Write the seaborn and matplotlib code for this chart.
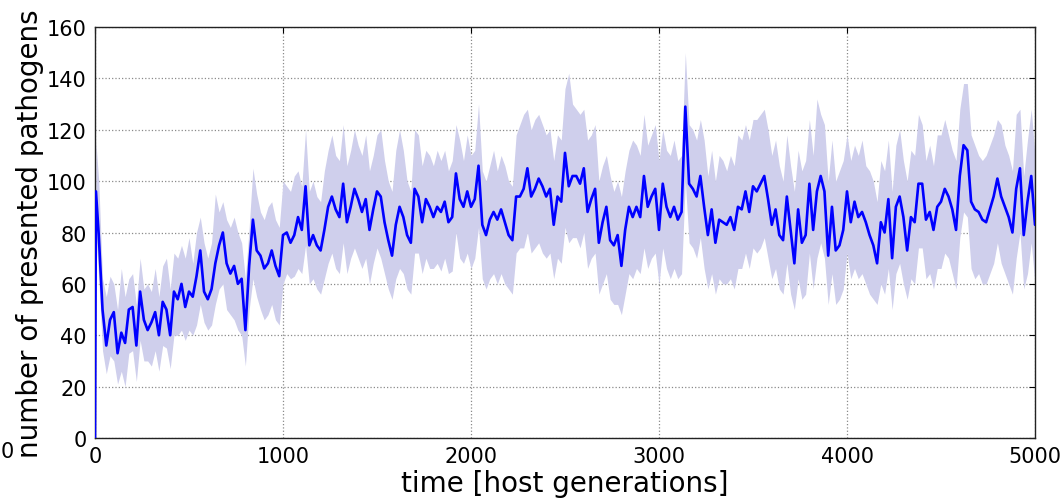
import numpy as np
import matplotlib
matplotlib.use("Agg")
import matplotlib.pyplot as plt
import seaborn as sns

# time points [host generations]
times = [0, 5] + list(range(20, 5001, 20))

mean_presented = [
    0, 96, 79, 50, 36, 46, 49, 33, 41, 37, 50, 51, 36, 57, 46, 42, 45, 49, 40, 53, 50,
    40, 57, 54, 60, 51, 57, 55, 63, 73, 57, 54, 58, 68, 75, 80, 68, 64, 67, 60, 62,
    42, 67, 85, 73, 71, 66, 68, 73, 67, 63,
    79, 80, 76, 79, 86, 81, 98, 75, 79, 75, 73, 81, 90, 94, 89, 86, 99, 84, 90, 97,
    93, 88, 93, 81, 89, 96, 94, 84, 77, 71, 83, 90, 86, 79, 76, 97, 94, 84, 93, 90,
    86, 90, 88, 92, 84, 86, 103, 93, 90, 96,
    90, 93, 106, 83, 79, 85, 88, 85, 89, 84, 79, 77, 94, 94, 97, 105, 94, 97, 101, 98,
    94, 97, 83, 94, 92, 111, 98, 102, 102, 99, 105, 88, 93, 97, 76, 84, 90, 77, 75, 79,
    67, 81, 90, 86, 90, 86, 102, 90, 94, 97,
    81, 99, 90, 86, 90, 85, 88, 129, 99, 97, 94, 102, 90, 79, 89, 76, 85, 84, 83, 86,
    81, 90, 89, 96, 88, 98, 96, 99, 102, 93, 83, 89, 79, 77, 94, 81, 68, 89, 76, 79,
    99, 81, 96, 102, 96, 71, 90, 73, 75, 81,
    96, 84, 92, 86, 88, 84, 79, 75, 68, 84, 80, 93, 70, 90, 94, 86, 73, 86, 84, 99,
    99, 85, 88, 81, 90, 92, 97, 94, 89, 81, 102, 114, 112, 92, 89, 88, 85, 84, 89, 94,
    101, 94, 90, 86, 80, 97, 105, 79, 92, 102, 83,
]

upper_band = [
    0, 115, 100, 62, 55, 63, 60, 50, 66, 55, 62, 64, 52, 70, 58, 60, 57, 66, 55, 67, 70,
    58, 72, 70, 75, 70, 78, 68, 80, 86, 76, 70, 76, 95, 88, 92, 85, 82, 86, 80, 76,
    62, 82, 105, 95, 88, 85, 90, 92, 85, 82,
    100, 98, 96, 102, 104, 98, 120, 96, 100, 94, 92, 104, 112, 118, 110, 108, 122, 106, 112, 120,
    114, 110, 118, 104, 110, 118, 120, 108, 100, 96, 112, 120, 112, 100, 96, 120, 118, 106, 112, 110,
    106, 112, 108, 112, 104, 108, 122, 116, 108, 118,
    110, 112, 130, 104, 100, 106, 112, 104, 110, 106, 100, 98, 118, 122, 126, 128, 120, 124, 126, 122,
    118, 120, 108, 118, 116, 136, 142, 130, 128, 126, 128, 116, 118, 122, 100, 106, 110, 102, 96, 100,
    94, 104, 112, 116, 114, 110, 126, 114, 118, 122,
    108, 120, 112, 110, 116, 108, 110, 150, 122, 120, 116, 124, 116, 102, 112, 100, 110, 108, 104, 110,
    106, 118, 116, 122, 116, 124, 124, 126, 128, 120, 110, 116, 106, 100, 118, 106, 96, 112, 104, 108,
    124, 110, 132, 126, 122, 100, 116, 100, 104, 108,
    118, 108, 114, 110, 116, 106, 104, 100, 92, 108, 104, 116, 96, 114, 120, 108, 100, 112, 110, 126,
    122, 108, 114, 106, 118, 118, 124, 118, 112, 108, 128, 138, 138, 118, 114, 110, 108, 110, 114, 118,
    124, 122, 114, 110, 104, 126, 128, 102, 116, 128, 110,
]

lower_band = [
    0, 80, 62, 34, 25, 32, 30, 21, 26, 20, 33, 34, 22, 38, 30, 30, 28, 34, 26, 36, 35,
    27, 40, 40, 42, 38, 42, 40, 44, 52, 45, 42, 44, 52, 58, 60, 50, 48, 46, 42, 40,
    28, 50, 62, 55, 50, 46, 48, 52, 46, 44,
    60, 64, 62, 63, 66, 64, 75, 60, 62, 58, 56, 62, 68, 72, 66, 64, 76, 64, 70, 74,
    70, 66, 70, 60, 68, 74, 70, 64, 58, 54, 62, 66, 64, 58, 56, 72, 72, 64, 70, 66,
    66, 68, 65, 70, 64, 65, 80, 70, 68, 72,
    66, 70, 82, 62, 58, 62, 64, 60, 64, 60, 58, 56, 72, 74, 74, 80, 72, 74, 76, 72,
    70, 72, 62, 70, 68, 82, 76, 78, 78, 74, 80, 66, 70, 72, 56, 60, 64, 54, 52, 52,
    48, 56, 64, 62, 66, 64, 74, 66, 70, 72,
    60, 74, 66, 62, 66, 62, 64, 100, 76, 74, 70, 78, 66, 58, 64, 56, 62, 60, 60, 62,
    58, 66, 66, 72, 66, 74, 72, 74, 78, 70, 62, 66, 58, 56, 68, 56, 50, 62, 54, 56,
    72, 58, 70, 76, 70, 52, 64, 52, 54, 58,
    72, 62, 66, 62, 64, 60, 56, 54, 52, 60, 56, 66, 50, 64, 68, 60, 54, 62, 60, 74,
    74, 62, 64, 58, 66, 66, 72, 70, 64, 58, 78, 88, 86, 66, 62, 64, 60, 60, 64, 68,
    76, 68, 64, 60, 56, 70, 80, 58, 64, 76, 60,
]

x_ticks = [0, 1000, 2000, 3000, 4000, 5000]
y_ticks = [0, 20, 40, 60, 80, 100, 120, 140, 160]
x_label = "time [host generations]"
y_label = "number of presented pathogens"

sns.set_style("white")
plt.rcParams["font.family"] = ["DejaVu Sans"]
plt.rcParams["text.color"] = "black"
plt.rcParams["axes.labelcolor"] = "black"

fig = plt.figure(figsize=(10.64, 5.02), dpi=100)
ax = fig.add_axes([95 / 1064, 1 - 439 / 502, 940 / 1064, 411 / 502])

ax.fill_between(times, lower_band, upper_band, color="#cfcfec", linewidth=0, zorder=1)
sns.lineplot(x=times, y=mean_presented, ax=ax, color="#0000ff", linewidth=1.9,
             estimator=None, sort=False, zorder=3)

ax.set_xlim(0, 5000)
ax.set_ylim(0, 160)
ax.set_xticks(x_ticks)
ax.set_yticks(y_ticks)
ax.grid(True, linestyle=":", color="#8a8a8a", linewidth=0.9)
ax.set_axisbelow(True)
ax.tick_params(direction="in", length=4, width=0.8, top=True, right=True,
               labelsize=15, pad=6, colors="black")
for s in ax.spines.values():
    s.set_color("#222222")
    s.set_linewidth(1.0)
    s.set_visible(True)

ax.set_xlabel(x_label, fontsize=20, labelpad=2, color="black")
ax.set_ylabel(y_label, fontsize=20, labelpad=2, color="black")

# tick label left over from the neighbouring panel on the left
fig.text(0.001, 1 - 452 / 502, "0", fontsize=15, ha="left", va="center")

fig.savefig("out.png", dpi=100)
